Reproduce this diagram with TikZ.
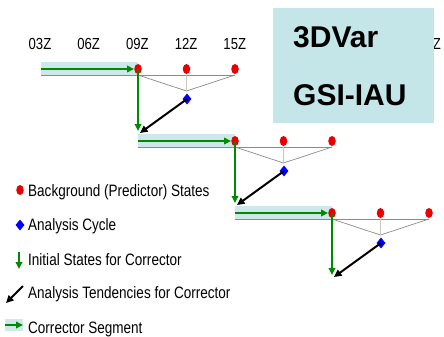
\documentclass[tikz,border=0pt]{standalone}
\usepackage{fontspec}
\setmainfont{Liberation Sans}
\newfontfamily\narrowfont[FakeStretch=0.82]{Liberation Sans}
\usetikzlibrary{shapes.geometric,arrows.meta}
\definecolor{dotred}{HTML}{E80000}
\definecolor{ggreen}{HTML}{008A00}
\definecolor{bandcol}{HTML}{CDE8EA}
\definecolor{boxcol}{HTML}{C5E6E9}
\definecolor{trigray}{HTML}{8A8A8A}
\definecolor{vgray}{HTML}{C8C8C8}
\begin{document}
\begin{tikzpicture}[x=1pt,y=-1pt,
  dot/.style={ellipse,fill=dotred,minimum width=7.5pt,minimum height=10pt,inner sep=0pt},
  diam/.style={diamond,fill=blue,minimum width=9pt,minimum height=11pt,inner sep=0pt},
  lab/.style={font=\narrowfont\fontsize{16.5}{18}\selectfont,inner sep=0pt,anchor=base west},
  tlab/.style={font=\narrowfont\fontsize{16}{18}\selectfont,inner sep=0pt,anchor=base},
  boxlab/.style={font=\fontsize{30}{32}\selectfont\bfseries,inner sep=0pt,anchor=base west},
  band/.style={fill=bandcol},
  garrow/.style={draw=ggreen,line width=2pt,-{Triangle[length=7pt,width=6.5pt]}},
  karrow/.style={draw=black,line width=2pt,-{Triangle[length=7.5pt,width=7pt]}},
  tri/.style={draw=trigray,line width=0.7pt},
  vtri/.style={draw=vgray,line width=1.2pt}]
\useasboundingbox (0,0) rectangle (444,337);

% time labels (the ones hidden by the box are not drawn)
\foreach \t [count=\i from 0] in {03Z,06Z,09Z,12Z,15Z}
  \node[tlab] (t\i) at (40+48.7*\i,50) {\t};
\node[tlab] (t8) at (40+48.7*8,50) {03Z};

% rows
\foreach \r/\xo/\yo in {1/138/69, 2/235/141, 3/332/213} {
  \fill[band] (\xo-97,\yo-7) rectangle (\xo,\yo+6);
  \draw[tri] (\xo-97,\yo+6) -- (\xo,\yo+6);
  \coordinate (s\r) at (\xo-97,\yo);
  \coordinate (tl\r) at (\xo,\yo+6);
  \coordinate (tr\r) at (\xo+97,\yo+6);
  \coordinate (ap\r) at (\xo+48.5,\yo+22);
  \coordinate (ge\r) at (\xo,\yo+62);
  \coordinate (ke\r) at (\xo+2,\yo+64);
  \draw[tri] (tl\r) -- (tr\r);
  \draw[tri] (tl\r) -- (ap\r) -- (tr\r);
  \node[dot] (a\r) at (\xo,\yo) {};
  \node[dot] (b\r) at (\xo+48.5,\yo) {};
  \node[dot] (c\r) at (\xo+97,\yo) {};
  \draw[vtri] (b\r.south) -- (ap\r);
  \node[diam] (m\r) at (\xo+49,\yo+30) {};
  \draw[garrow] (s\r) -- (a\r.west);
  \draw[garrow] (a\r.center) -- (ge\r);
  \draw[karrow] (m\r.center) -- (ke\r);
}

% box
\node[fill=boxcol,minimum width=161pt,minimum height=115pt,inner sep=0pt,anchor=north west] (box) at (273,8) {};
\node[boxlab] (v1) at (293,48) {3DVar};
\node[boxlab] (v2) at (293,105) {GSI-IAU};

% legend
\node[dot] (ld) at (20,190) {};
\node[lab] (l1) at (28,196.5) {Background (Predictor) States};
\node[diam] (lm) at (20,225) {};
\node[lab] (l2) at (28,230.5) {Analysis Cycle};
\coordinate (lg1) at (19,252);
\coordinate (lg2) at (19,269);
\draw[garrow] (lg1) -- (lg2);
\node[lab] (l3) at (28,265) {Initial States for Corrector};
\coordinate (lk1) at (23,286);
\coordinate (lk2) at (6,303);
\draw[karrow] (lk1) -- (lk2);
\node[lab] (l4) at (28,298) {Analysis Tendencies for Corrector};
\fill[band] (5,319) rectangle (23,331);
\coordinate (lc1) at (5,325);
\coordinate (lc2) at (23,325);
\draw[garrow] (lc1) -- (lc2);
\node[lab] (l5) at (28,333) {Corrector Segment};
\end{tikzpicture}
\end{document}
